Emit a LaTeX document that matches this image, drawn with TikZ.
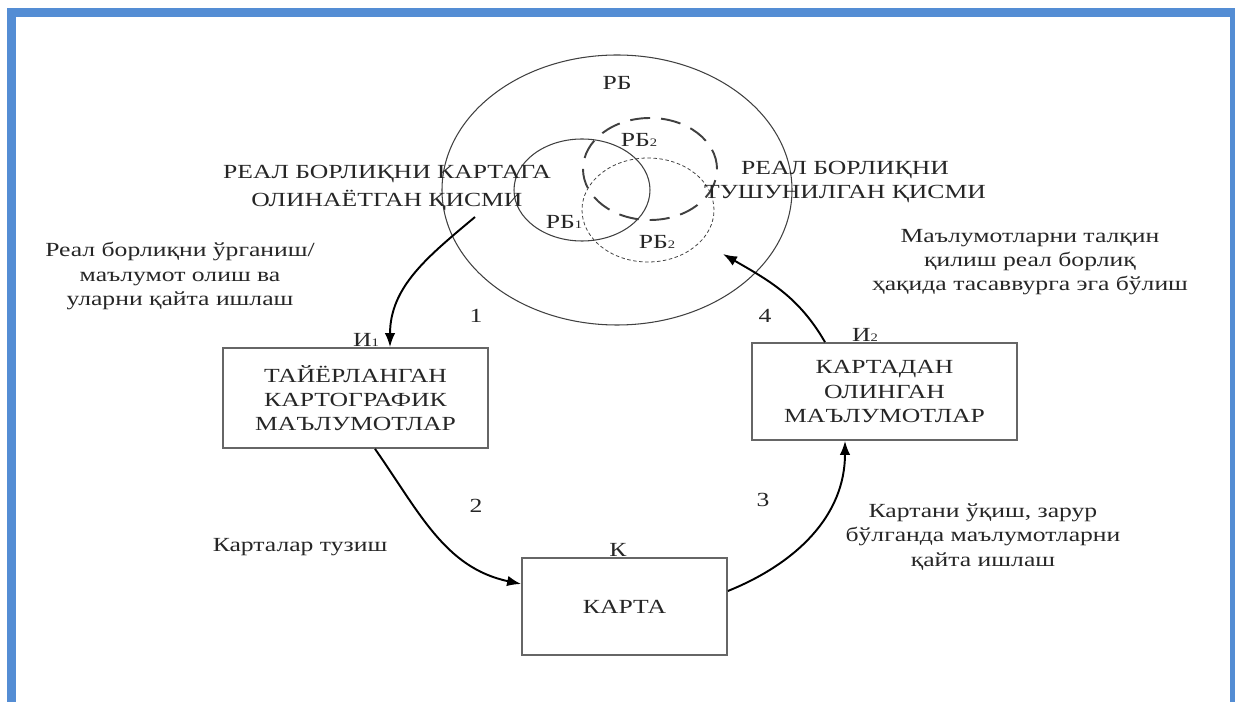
\documentclass[tikz,border=0pt]{standalone}
\usepackage{fontspec}
\setmainfont[FakeStretch=1.28]{Liberation Serif}
\usetikzlibrary{arrows.meta}
\usepackage{xcolor}
\definecolor{framecol}{RGB}{84,141,212}
\newcommand{\idx}[1]{{\fontsize{6.5pt}{7pt}\selectfont #1}}
\tikzset{txt/.style={text=black!85,font=\fontsize{11.4pt}{13.8pt}\selectfont,align=center,inner sep=0pt},
box/.style={rectangle,draw=black!60,line width=1pt,text=black!85,font=\fontsize{11.4pt}{13.8pt}\selectfont,align=center},
flow/.style={->,>={Latex[length=2.8mm,width=2.1mm]},line width=1.1pt},
ring/.style={draw=black!75,line width=0.6pt}}

\begin{document}
\begin{tikzpicture}[x=2mm,y=2mm]
\useasboundingbox (0,0) rectangle (123.5,-70.2);
\clip (0,0) rectangle (123.5,-70.2);

\draw[framecol,line width=1.75mm] (1.15,-75) |- (123.45,-1.28) -- (123.45,-75);

% circles
\draw[ring] (61.7,-19.0) ellipse [x radius=17.5,y radius=13.5];
\draw[ring] (58.2,-19.0) ellipse [x radius=6.8,y radius=5.1];
\draw[ring,line width=1.1pt,dash pattern=on 4mm off 2.2mm] (65.0,-16.9) ellipse [x radius=6.7,y radius=5.1];
\draw[ring,line width=0.45pt,dash pattern=on 0.7mm off 0.5mm] (64.8,-21.0) ellipse [x radius=6.6,y radius=5.2];

\node[txt] (rb) at (61.7,-8.3) {РБ};
\node[txt] (rb2a) at (63.9,-14.0) {РБ\idx{2}};
\node[txt] (rb1) at (56.4,-22.2) {РБ\idx{1}};
\node[txt] (rb2b) at (65.7,-24.2) {РБ\idx{2}};

\node[txt] (capl) at (38.7,-18.8) {РЕАЛ БОРЛИҚНИ КАРТАГА\\[2pt]ОЛИНАЁТГАН ҚИСМИ};
\node[txt] (capr) at (84.5,-18.2) {РЕАЛ БОРЛИҚНИ\\ТУШУНИЛГАН ҚИСМИ};

% boxes
\node[box,minimum width=53mm,minimum height=20mm,label={[txt,xshift=2.1mm]above:И\idx{1}}] (tay) at (35.55,-39.8) {ТАЙЁРЛАНГАН\\КАРТОГРАФИК\\МАЪЛУМОТЛАР};
\node[box,minimum width=53mm,minimum height=19.4mm,label={[txt,xshift=-3.9mm]above:И\idx{2}}] (kdan) at (88.45,-39.15) {КАРТАДАН\\ОЛИНГАН\\МАЪЛУМОТЛАР};
\node[box,minimum width=41mm,minimum height=19.4mm,label={[txt,xshift=-1.3mm]above:К}] (karta) at (62.45,-60.65) {КАРТА};

% side texts
\node[txt] (t1) at (18.0,-27.6) {Реал борлиқни ўрганиш/\\маълумот олиш ва\\уларни қайта ишлаш};
\node[txt] (t2) at (30.0,-54.7) {Карталар тузиш};
\node[txt] (t3) at (98.3,-53.7) {Картани ўқиш, зарур\\бўлганда маълумотларни\\қайта ишлаш};
\node[txt] (t4) at (103.0,-26.2) {Маълумотларни талқин\\қилиш реал борлиқ\\ҳақида тасаввурга эга бўлиш};

\node[txt] (n1) at (47.6,-31.6) {1};
\node[txt] (n2) at (47.6,-50.6) {2};
\node[txt] (n3) at (76.3,-50.0) {3};
\node[txt] (n4) at (76.5,-31.6) {4};

% arrows
\coordinate (s1) at (47.5,-21.7);
\coordinate (e4) at (72.3,-25.4);
\draw[flow] (s1) to[out=220,in=90] ([xshift=6.9mm]tay.north);
\draw[flow] ([xshift=3.9mm]tay.south) to[out=-55,in=168] ([yshift=4.5mm]karta.west);
\draw[flow] ([yshift=3.1mm]karta.east) to[out=22,in=-90] ([xshift=-7.9mm]kdan.south);
\draw[flow] ([xshift=-11.9mm]kdan.north) to[out=120,in=-30] (e4);
\end{tikzpicture}
\end{document}
